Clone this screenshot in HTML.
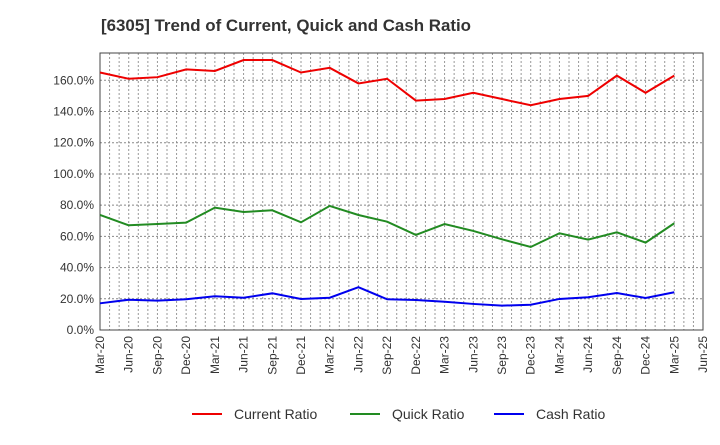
<!DOCTYPE html>
<html><head><meta charset="utf-8"><style>
body{margin:0;background:#fff;font-family:"Liberation Sans",sans-serif}
svg text{font-family:"Liberation Sans",sans-serif}
</style></head><body>
<svg id="c" width="720" height="440">
<text x="101" y="31" font-size="16.5" font-weight="bold" fill="#333" textLength="370" lengthAdjust="spacingAndGlyphs">[6305]  Trend of Current, Quick and Cash Ratio</text>
<g id="grid"></g><g id="axes"></g><g id="series"></g><g id="legend"></g>
</svg>
<script>
const categories=["Mar-20","Jun-20","Sep-20","Dec-20","Mar-21","Jun-21","Sep-21","Dec-21","Mar-22","Jun-22","Sep-22","Dec-22","Mar-23","Jun-23","Sep-23","Dec-23","Mar-24","Jun-24","Sep-24","Dec-24","Mar-25","Jun-25"];
const currentRatio=[165,161,162,167,166,173,173,165,168,158,161,147,148,152,148,144,148,150,163,152,163];
const quickRatio=[73.7,67.1,67.9,68.8,78.4,75.6,76.7,69,79.5,73.7,69.4,60.9,67.9,63.5,58.1,53.2,62,57.9,62.6,56,68.4];
const cashRatio=[17.1,19.4,18.8,19.7,21.6,20.7,23.5,19.9,20.7,27.4,19.7,19.2,18.1,16.7,15.6,16.2,19.9,21,23.7,20.5,24.2];
const yTicks=[0,20,40,60,80,100,120,140,160];
const L=100,R=703,T=53,B=330,YMAX=177.5;
const NS="http://www.w3.org/2000/svg";
const xs=i=>L+(R-L)*i/(categories.length-1);
const ys=v=>B-(B-T)*v/YMAX;
function mk(tag,attrs,parent){const e=document.createElementNS(NS,tag);for(const k in attrs)e.setAttribute(k,attrs[k]);parent.appendChild(e);return e;}
const grid=document.getElementById('grid'),axes=document.getElementById('axes'),ser=document.getElementById('series'),leg=document.getElementById('legend');
for(let m=1;m<(categories.length-1)*3;m++){const x=L+(R-L)*m/((categories.length-1)*3);
const g=mk('line',{x1:x,x2:x,y1:T,y2:B,stroke:'#999','stroke-width':1,'stroke-dasharray':'2,2'},grid);

}
yTicks.forEach(v=>{const y=ys(v);
if(v>0){const g=mk('line',{x1:L,x2:R,y1:y,y2:y,stroke:'#888','stroke-width':1,'stroke-dasharray':'2,2'},grid);

}
const t=mk('text',{x:L-6,y:y+4,'font-size':12,'text-anchor':'end',fill:'#333'},axes);t.textContent=v.toFixed(1)+'%';

});
const fr=mk('rect',{x:L,y:T,width:R-L,height:B-T,fill:'none',stroke:'#444','stroke-width':1},axes);


categories.forEach((c,i)=>{const x=xs(i);
const t=mk('text',{x:x+4,y:B+6,'font-size':12,'text-anchor':'end',fill:'#333',transform:`rotate(-90 ${x+4} ${B+6})`},axes);t.textContent=c;

});
const series=[[currentRatio,'#ee0000','current-ratio-line','Current Ratio',192],[quickRatio,'#228b22','quick-ratio-line','Quick Ratio',350],[cashRatio,'#0000ee','cash-ratio-line','Cash Ratio',494]];
series.forEach(([d,col,name,label,lx])=>{
const p=mk('polyline',{points:d.map((v,i)=>xs(i)+','+ys(v)).join(' '),fill:'none',stroke:col,'stroke-width':2},ser);


const g=mk('g',{},leg);


mk('line',{x1:lx,x2:lx+30,y1:414,y2:414,stroke:col,'stroke-width':2},g);
const t=mk('text',{x:lx+42,y:419,'font-size':14,fill:'#333'},g);t.textContent=label;});
</script>
</body></html>
